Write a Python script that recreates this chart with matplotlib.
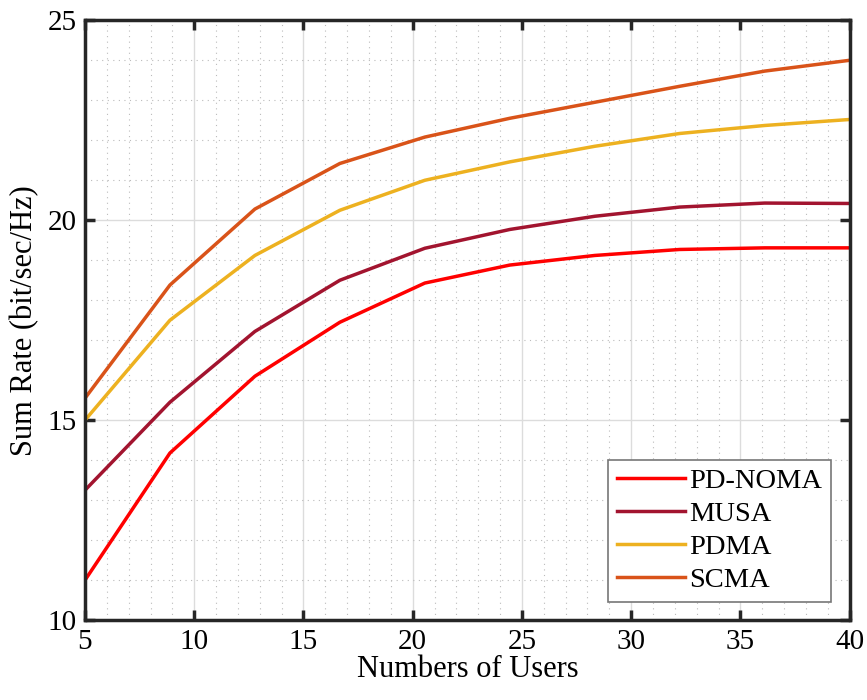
import numpy as np
import matplotlib.pyplot as plt
from matplotlib.ticker import MultipleLocator

plt.rcParams['font.family'] = ['Liberation Serif', 'DejaVu Serif']

users = np.linspace(5, 40, 10)
pd_noma = [11.0, 14.18, 16.1, 17.45, 18.43, 18.88, 19.12, 19.27, 19.31, 19.31]
musa = [13.25, 15.45, 17.22, 18.5, 19.3, 19.77, 20.1, 20.33, 20.43, 20.42]
pdma = [15.0, 17.5, 19.12, 20.25, 21.0, 21.46, 21.85, 22.17, 22.37, 22.52]
scma = [15.55, 18.38, 20.28, 21.42, 22.08, 22.55, 22.95, 23.35, 23.73, 24.0]

fig = plt.figure(figsize=(8.67, 7), dpi=100)
ax = fig.add_axes([0.098, 0.114, 0.882, 0.857])

ax.plot(users, pd_noma, color='#FF0000', lw=2.5, label='PD-NOMA')
ax.plot(users, musa, color='#A2142F', lw=2.5, label='MUSA')
ax.plot(users, pdma, color='#EDB120', lw=2.5, label='PDMA')
ax.plot(users, scma, color='#D95319', lw=2.5, label='SCMA')

ax.set_xlim(5, 40)
ax.set_ylim(10, 25)
ax.xaxis.set_major_locator(MultipleLocator(5))
ax.yaxis.set_major_locator(MultipleLocator(5))
ax.xaxis.set_minor_locator(MultipleLocator(1))
ax.yaxis.set_minor_locator(MultipleLocator(1))
ax.grid(which='major', color='#dcdcdc', lw=1)
ax.grid(which='minor', color='#bbbbbb', lw=0.8, ls=(0, (1, 4)))
ax.set_axisbelow(True)

for s in ax.spines.values():
    s.set_linewidth(2.5)
    s.set_color('#262626')
ax.tick_params(which='major', direction='in', length=7, width=2.5, color='#262626',
               labelsize=21, pad=6, top=True, right=True)
ax.tick_params(which='minor', length=0)

ax.set_xlabel('Numbers of Users', fontsize=22, labelpad=0)
ax.set_ylabel('Sum Rate (bit/sec/Hz)', fontsize=22, labelpad=6)

leg = ax.legend(loc='lower right', fontsize=20.5, fancybox=False, framealpha=1,
                edgecolor='#777777', handlelength=2.4, handletextpad=0.15,
                borderaxespad=0.65, labelspacing=0.25, borderpad=0.3)
leg.get_frame().set_linewidth(1.2)

fig.savefig('out.png', dpi=100)
